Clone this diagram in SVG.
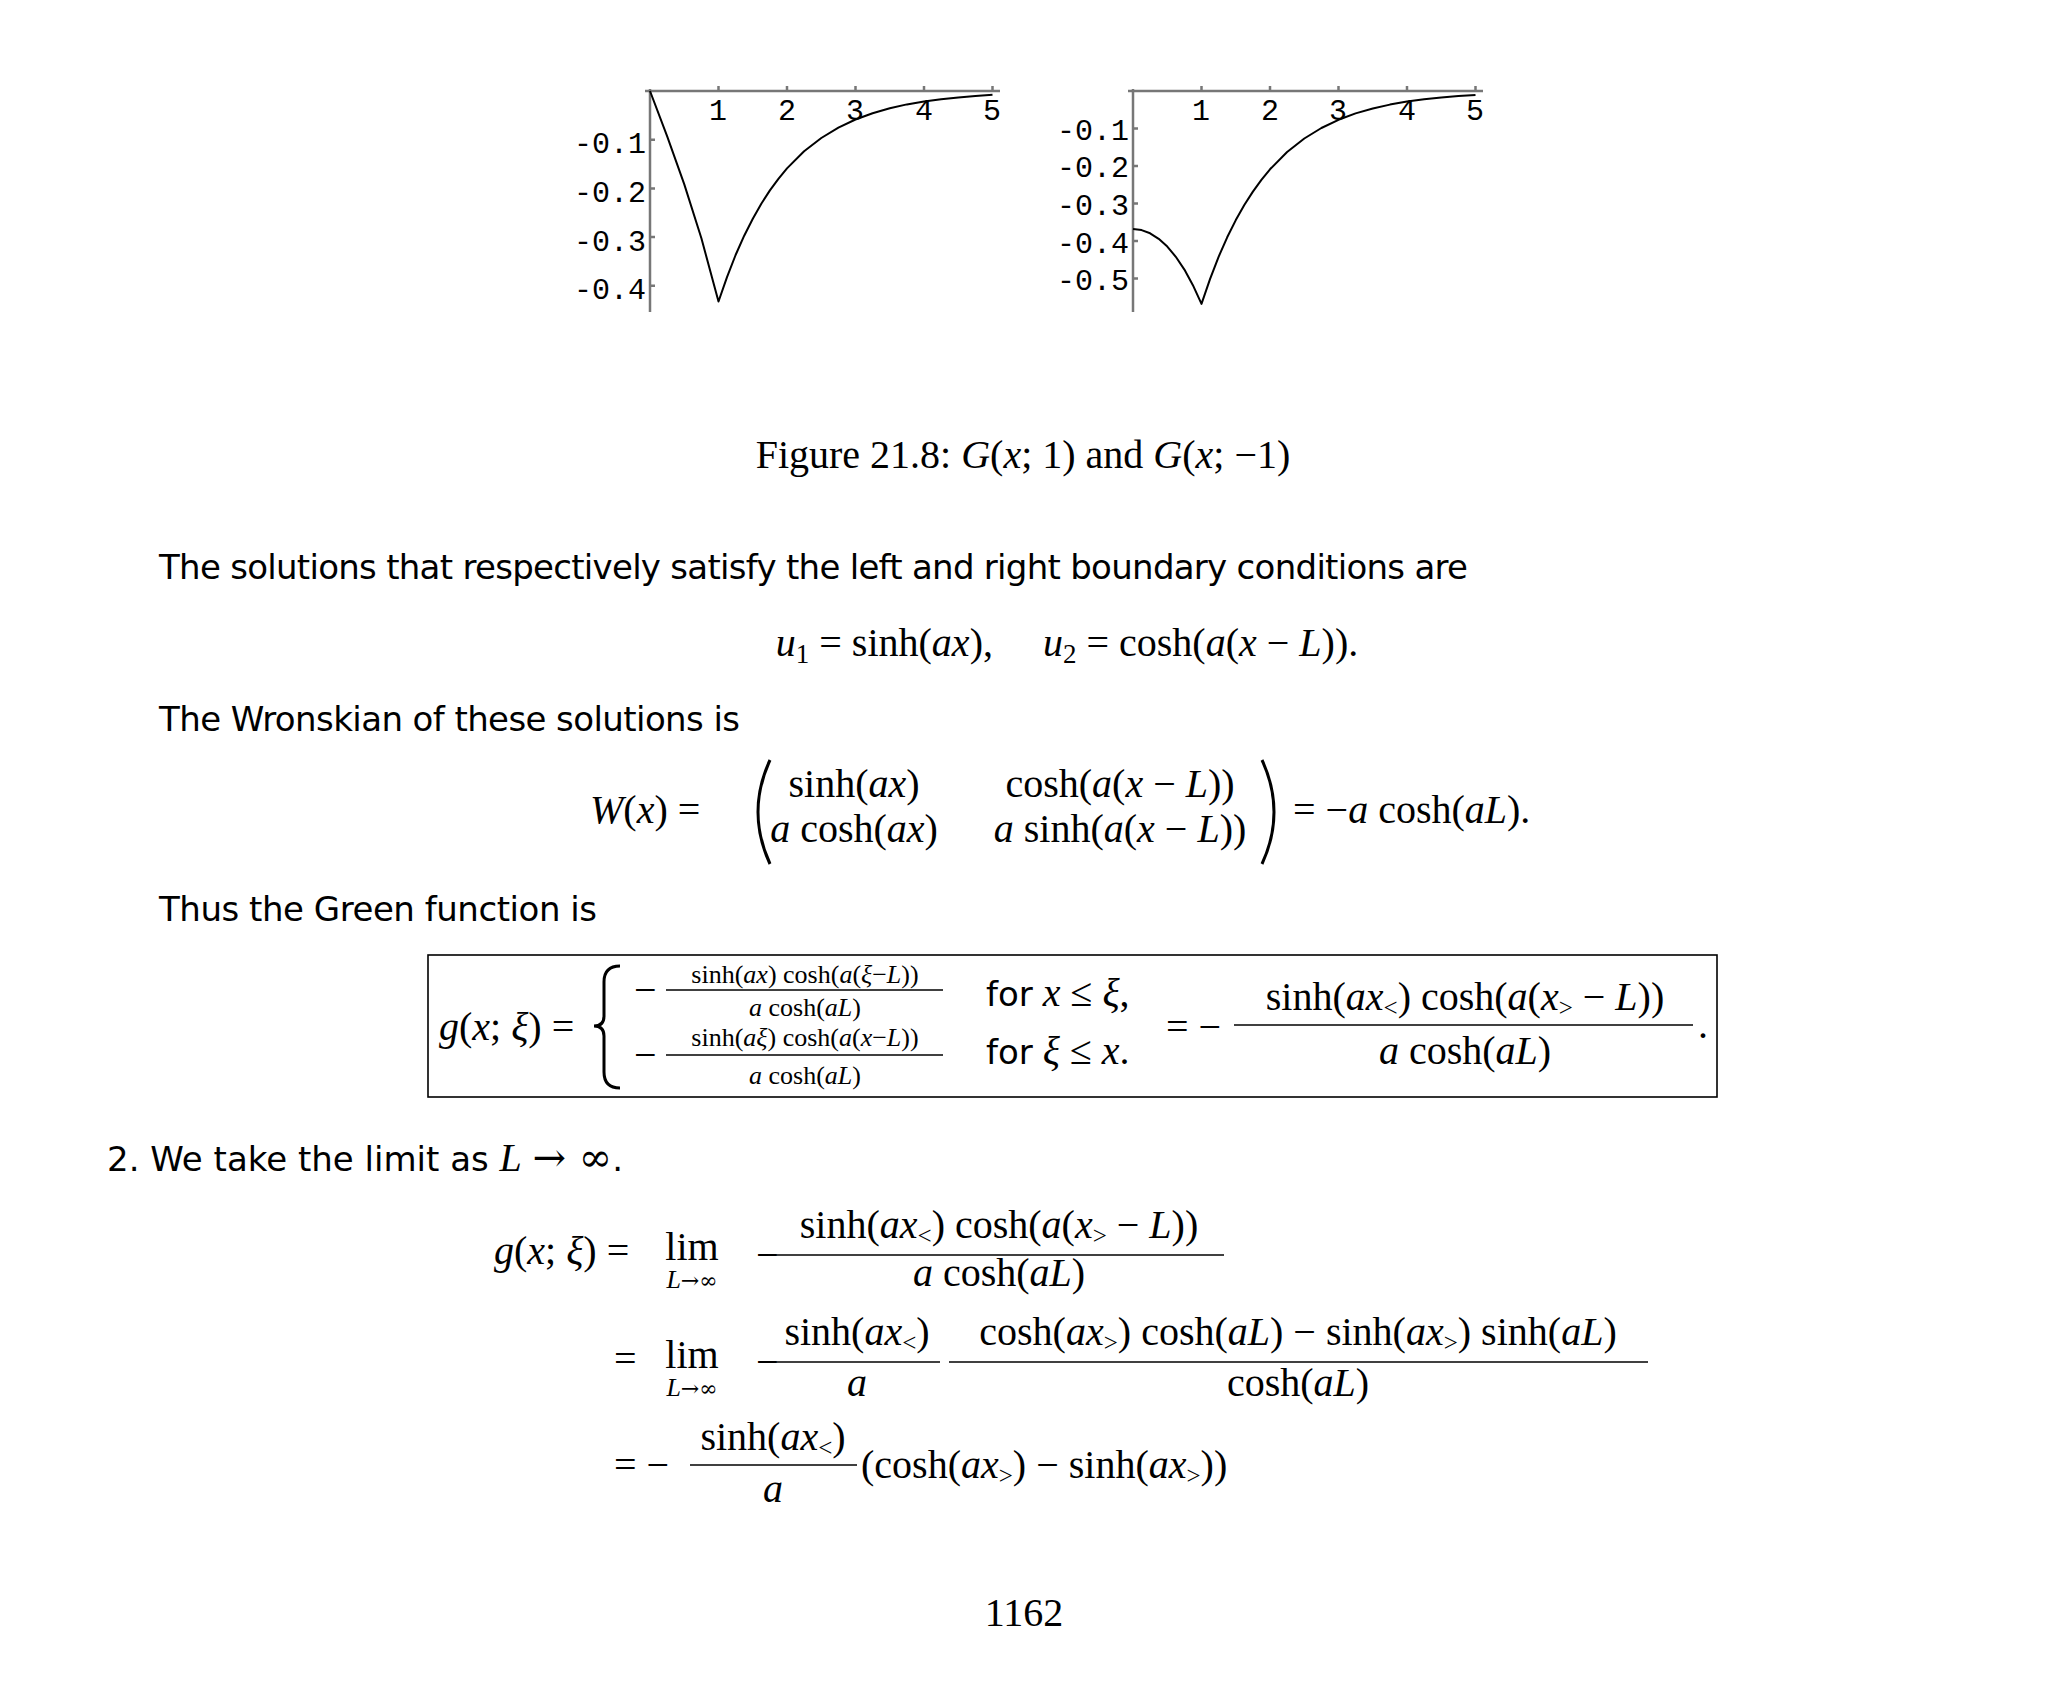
<svg xmlns="http://www.w3.org/2000/svg" width="2048" height="1687" viewBox="0 0 2048 1687">
<style>
.m{font-family:"Liberation Serif",serif;font-size:40px;fill:#000}
.i{font-style:italic}
.ar{font-family:"DejaVu Serif",serif;font-style:normal}
.s{font-family:"DejaVu Sans","Liberation Sans",sans-serif;font-size:34px;fill:#000}
.sm{font-family:"Liberation Serif",serif;font-size:26px;fill:#000}
.t{font-family:"Liberation Mono",monospace;font-size:30px;fill:#000}
.ax{stroke:#777;stroke-width:2.5;fill:none}
.cv{stroke:#000;stroke-width:2;fill:none;stroke-linejoin:round}
.ln{stroke:#000;stroke-width:1.6}
</style>
<rect width="2048" height="1687" fill="#fff"/>
<g id="plot1">
<line class="ax" x1="645" y1="91" x2="1000" y2="91"/>
<line class="ax" x1="650" y1="89" x2="650" y2="312"/>
<path class="ax" stroke-width="1.5" d="M718.5 91v-5M787 91v-5M855.5 91v-5M924 91v-5M992.5 91v-5M650 139.7h5M650 188.4h5M650 237.1h5M650 285.8h5"/>
<polyline class="cv" points="650,91 667.1,136.2 684.3,184.4 701.4,238.3 718.5,301.5 727.1,276.8 735.6,255 744.2,235.7 752.8,218.7 761.3,203.7 769.9,190.4 778.4,178.8 787,168.4 804.1,151.3 821.3,138 838.4,127.6 855.5,119.5 872.6,113.2 889.8,108.3 906.9,104.4 924,101.5 941.1,99.2 958.3,97.4 975.4,96 992.5,94.8"/>
<g class="t" text-anchor="middle"><text x="718" y="120">1</text><text x="787" y="120">2</text><text x="855" y="120">3</text><text x="924" y="120">4</text><text x="992" y="120">5</text></g>
<g class="t" text-anchor="end"><text x="646" y="153">-0.1</text><text x="646" y="202">-0.2</text><text x="646" y="251">-0.3</text><text x="646" y="299">-0.4</text></g>
</g>
<g id="plot2">
<line class="ax" x1="1128" y1="91" x2="1483" y2="91"/>
<line class="ax" x1="1133" y1="89" x2="1133" y2="312"/>
<path class="ax" stroke-width="1.5" d="M1201.5 91v-5M1270 91v-5M1338.5 91v-5M1407 91v-5M1475.5 91v-5M1133 128.5h5M1133 166h5M1133 203.5h5M1133 241h5M1133 278.5h5"/>
<polyline class="cv" points="1133,229 1141.6,230.1 1150.1,233.3 1158.7,238.8 1167.3,246.6 1175.8,256.8 1184.4,269.6 1192.9,285.2 1201.5,303.9 1210.1,278.9 1218.6,256.8 1227.2,237.3 1235.8,220.1 1244.3,205 1252.9,191.6 1261.4,179.8 1270,169.3 1287.1,152 1304.3,138.5 1321.4,128 1338.5,119.8 1355.6,113.4 1372.8,108.5 1389.9,104.6 1407,101.6 1424.1,99.3 1441.3,97.4 1458.4,96 1475.5,94.9"/>
<g class="t" text-anchor="middle"><text x="1201" y="120">1</text><text x="1270" y="120">2</text><text x="1338" y="120">3</text><text x="1407" y="120">4</text><text x="1475" y="120">5</text></g>
<g class="t" text-anchor="end"><text x="1129" y="140">-0.1</text><text x="1129" y="177">-0.2</text><text x="1129" y="215">-0.3</text><text x="1129" y="253">-0.4</text><text x="1129" y="290">-0.5</text></g>
</g>
<text class="m" x="1023" y="468" text-anchor="middle" xml:space="preserve">Figure 21.8: <tspan class="i">G</tspan>(<tspan class="i">x</tspan>; 1) and <tspan class="i">G</tspan>(<tspan class="i">x</tspan>; −1)</text>
<text class="s" x="159" y="579" textLength="1309">The solutions that respectively satisfy the left and right boundary conditions are</text>
<text class="m" x="1067" y="656" text-anchor="middle" xml:space="preserve"><tspan class="i">u</tspan><tspan font-size="27" dy="7">1</tspan><tspan dy="-7"> = sinh(</tspan><tspan class="i">ax</tspan>),     <tspan class="i">u</tspan><tspan font-size="27" dy="7">2</tspan><tspan dy="-7"> = cosh(</tspan><tspan class="i">a</tspan>(<tspan class="i">x</tspan> − <tspan class="i">L</tspan>)).</text>
<text class="s" x="159" y="731" textLength="581">The Wronskian of these solutions is</text>
<text class="m" x="590" y="823" xml:space="preserve"><tspan class="i">W</tspan>(<tspan class="i">x</tspan>) =</text>
<path d="M770 760 Q746 812 770 864" stroke="#000" stroke-width="3" fill="none"/>
<path d="M1262 760 Q1286 812 1262 864" stroke="#000" stroke-width="3" fill="none"/>
<g class="m" text-anchor="middle" xml:space="preserve">
<text x="854" y="797">sinh(<tspan class="i">ax</tspan>)</text>
<text x="1120" y="797">cosh(<tspan class="i">a</tspan>(<tspan class="i">x</tspan> − <tspan class="i">L</tspan>))</text>
<text x="854" y="842"><tspan class="i">a</tspan> cosh(<tspan class="i">ax</tspan>)</text>
<text x="1120" y="842"><tspan class="i">a</tspan> sinh(<tspan class="i">a</tspan>(<tspan class="i">x</tspan> − <tspan class="i">L</tspan>))</text>
</g>
<text class="m" x="1293" y="823" xml:space="preserve">= −<tspan class="i">a</tspan> cosh(<tspan class="i">aL</tspan>).</text>
<text class="s" x="159" y="921" textLength="438">Thus the Green function is</text>
<g id="box" xml:space="preserve">
<rect x="428" y="955" width="1289" height="142" fill="none" stroke="#000" stroke-width="1.6"/>
<text class="m" x="439" y="1040"><tspan class="i">g</tspan>(<tspan class="i">x</tspan>; <tspan class="i">ξ</tspan>) =</text>
<path d="M620 966 Q604 966 604 982 L604 1016 Q604 1026 594 1026 Q604 1026 604 1036 L604 1072 Q604 1088 620 1088" stroke="#000" stroke-width="3" fill="none"/>
<text class="m" x="634" y="1003">−</text>
<line class="ln" x1="666" y1="990" x2="943" y2="990"/>
<g class="sm" text-anchor="middle">
<text x="805" y="983">sinh(<tspan class="i">ax</tspan>) cosh(<tspan class="i">a</tspan>(<tspan class="i">ξ</tspan>−<tspan class="i">L</tspan>))</text>
<text x="805" y="1016"><tspan class="i">a</tspan> cosh(<tspan class="i">aL</tspan>)</text>
<text x="805" y="1046">sinh(<tspan class="i">aξ</tspan>) cosh(<tspan class="i">a</tspan>(<tspan class="i">x</tspan>−<tspan class="i">L</tspan>))</text>
<text x="805" y="1084"><tspan class="i">a</tspan> cosh(<tspan class="i">aL</tspan>)</text>
</g>
<text class="m" x="634" y="1068">−</text>
<line class="ln" x1="666" y1="1055" x2="943" y2="1055"/>
<text class="m" x="986" y="1006"><tspan class="s">for</tspan> <tspan class="i">x</tspan> ≤ <tspan class="i">ξ</tspan>,</text>
<text class="m" x="986" y="1064"><tspan class="s">for</tspan> <tspan class="i">ξ</tspan> ≤ <tspan class="i">x</tspan>.</text>
<text class="m" x="1166" y="1040">= −</text>
<line class="ln" x1="1234" y1="1025" x2="1693" y2="1025"/>
<text class="m" x="1465" y="1010" text-anchor="middle">sinh(<tspan class="i">ax</tspan><tspan font-size="25" dy="6">&lt;</tspan><tspan dy="-6">) cosh(</tspan><tspan class="i">a</tspan>(<tspan class="i">x</tspan><tspan font-size="25" dy="6">&gt;</tspan><tspan dy="-6"> − </tspan><tspan class="i">L</tspan>))</text>
<text class="m" x="1465" y="1064" text-anchor="middle"><tspan class="i">a</tspan> cosh(<tspan class="i">aL</tspan>)</text>
<text class="m" x="1698" y="1038">.</text>
</g>
<text class="s" x="107" y="1171" xml:space="preserve">2. We take the limit as <tspan class="m i">L</tspan> <tspan class="m ar" font-size="34">→ ∞</tspan>.</text>
<g id="limit" xml:space="preserve">
<text class="m" x="494" y="1264"><tspan class="i">g</tspan>(<tspan class="i">x</tspan>; <tspan class="i">ξ</tspan>) =</text>
<text class="m" x="692" y="1260" text-anchor="middle">lim</text>
<text class="sm" x="692" y="1288" text-anchor="middle"><tspan class="i">L</tspan><tspan class="ar" font-size="22">→∞</tspan></text>
<text class="m" x="756" y="1268">−</text>
<line class="ln" x1="773" y1="1255" x2="1224" y2="1255"/>
<text class="m" x="999" y="1238" text-anchor="middle">sinh(<tspan class="i">ax</tspan><tspan font-size="25" dy="6">&lt;</tspan><tspan dy="-6">) cosh(</tspan><tspan class="i">a</tspan>(<tspan class="i">x</tspan><tspan font-size="25" dy="6">&gt;</tspan><tspan dy="-6"> − </tspan><tspan class="i">L</tspan>))</text>
<text class="m" x="999" y="1286" text-anchor="middle"><tspan class="i">a</tspan> cosh(<tspan class="i">aL</tspan>)</text>
<text class="m" x="614" y="1372">=</text>
<text class="m" x="692" y="1368" text-anchor="middle">lim</text>
<text class="sm" x="692" y="1396" text-anchor="middle"><tspan class="i">L</tspan><tspan class="ar" font-size="22">→∞</tspan></text>
<text class="m" x="756" y="1375">−</text>
<line class="ln" x1="773" y1="1362" x2="940" y2="1362"/>
<text class="m" x="857" y="1345" text-anchor="middle">sinh(<tspan class="i">ax</tspan><tspan font-size="25" dy="6">&lt;</tspan><tspan dy="-6">)</tspan></text>
<text class="m i" x="857" y="1396" text-anchor="middle">a</text>
<line class="ln" x1="949" y1="1362" x2="1648" y2="1362"/>
<text class="m" x="1298" y="1345" text-anchor="middle">cosh(<tspan class="i">ax</tspan><tspan font-size="25" dy="6">&gt;</tspan><tspan dy="-6">) cosh(</tspan><tspan class="i">aL</tspan>) − sinh(<tspan class="i">ax</tspan><tspan font-size="25" dy="6">&gt;</tspan><tspan dy="-6">) sinh(</tspan><tspan class="i">aL</tspan>)</text>
<text class="m" x="1298" y="1396" text-anchor="middle">cosh(<tspan class="i">aL</tspan>)</text>
<text class="m" x="614" y="1478">= −</text>
<line class="ln" x1="690" y1="1465" x2="857" y2="1465"/>
<text class="m" x="773" y="1450" text-anchor="middle">sinh(<tspan class="i">ax</tspan><tspan font-size="25" dy="6">&lt;</tspan><tspan dy="-6">)</tspan></text>
<text class="m i" x="773" y="1502" text-anchor="middle">a</text>
<text class="m" x="861" y="1478">(cosh(<tspan class="i">ax</tspan><tspan font-size="25" dy="6">&gt;</tspan><tspan dy="-6">) − sinh(</tspan><tspan class="i">ax</tspan><tspan font-size="25" dy="6">&gt;</tspan><tspan dy="-6">))</tspan></text>
</g>
<text class="m" x="1024" y="1626" text-anchor="middle">1162</text>
</svg>
